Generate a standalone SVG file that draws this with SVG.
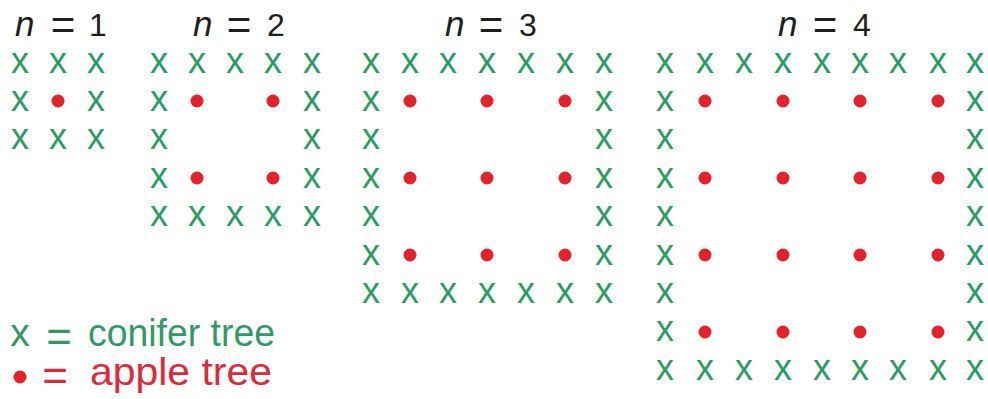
<svg xmlns="http://www.w3.org/2000/svg" width="988" height="399" viewBox="0 0 988 399">
<style>
.t{font-family:"Liberation Sans",Arial,sans-serif;fill:#1e1e1e}
.n{font-style:italic;font-size:35px}
.eq{font-size:42px;text-anchor:middle}
.d{font-size:32px;text-anchor:middle}
.x{font-family:"Liberation Sans",Arial,sans-serif;font-size:36px;fill:#2a9d64;text-anchor:middle}
.a{fill:#e4222b}
.lg{font-family:"Liberation Sans",Arial,sans-serif;font-size:39px;fill:#2f9a68}
.lr{font-family:"Liberation Sans",Arial,sans-serif;font-size:39px;fill:#dc2a3a}
.le{font-size:44px;text-anchor:middle}
</style>
<rect width="988" height="399" fill="#ffffff"/>
<g id="titles">
<text class="t n" x="15" y="36">n</text><text class="t eq" x="63" y="39">=</text><text class="t d" x="98" y="36">1</text>
<text class="t n" x="193" y="36">n</text><text class="t eq" x="239" y="39">=</text><text class="t d" x="276" y="36">2</text>
<text class="t n" x="445" y="36">n</text><text class="t eq" x="491" y="39">=</text><text class="t d" x="528" y="36">3</text>
<text class="t n" x="778" y="36">n</text><text class="t eq" x="825" y="39">=</text><text class="t d" x="862" y="36">4</text>
</g>
<g id="grid-n1">
<text class="x" x="20 58 96" y="72.5">xxx</text>
<text class="x" x="20 96" y="110.5">xx</text>
<text class="x" x="20 58 96" y="149">xxx</text>
<circle class="a" cx="58" cy="101" r="6.5"/>
</g>
<g id="grid-n2">
<text class="x" x="159 197 235 273 312" y="72.5">xxxxx</text>
<text class="x" x="159 312" y="110.5">xx</text>
<text class="x" x="159 312" y="149">xx</text>
<text class="x" x="159 312" y="187.5">xx</text>
<text class="x" x="159 197 235 273 312" y="226">xxxxx</text>
<circle class="a" cx="197" cy="101" r="6.5"/><circle class="a" cx="273" cy="101" r="6.5"/>
<circle class="a" cx="197" cy="178" r="6.5"/><circle class="a" cx="273" cy="178" r="6.5"/>
</g>
<g id="grid-n3">
<text class="x" x="371 410 448 487 526 565 604" y="72.5">xxxxxxx</text>
<text class="x" x="371 604" y="110.5">xx</text>
<text class="x" x="371 604" y="149">xx</text>
<text class="x" x="371 604" y="187.5">xx</text>
<text class="x" x="371 604" y="226">xx</text>
<text class="x" x="371 604" y="264.5">xx</text>
<text class="x" x="371 410 448 487 526 565 604" y="302.5">xxxxxxx</text>
<circle class="a" cx="410" cy="101" r="6.5"/><circle class="a" cx="487" cy="101" r="6.5"/><circle class="a" cx="565" cy="101" r="6.5"/>
<circle class="a" cx="410" cy="178" r="6.5"/><circle class="a" cx="487" cy="178" r="6.5"/><circle class="a" cx="565" cy="178" r="6.5"/>
<circle class="a" cx="410" cy="255" r="6.5"/><circle class="a" cx="487" cy="255" r="6.5"/><circle class="a" cx="565" cy="255" r="6.5"/>
</g>
<g id="grid-n4">
<text class="x" x="665 705 744 783 822 860 898 938 975" y="72.5">xxxxxxxxx</text>
<text class="x" x="665 975" y="110.5">xx</text>
<text class="x" x="665 975" y="149">xx</text>
<text class="x" x="665 975" y="187.5">xx</text>
<text class="x" x="665 975" y="226">xx</text>
<text class="x" x="665 975" y="264.5">xx</text>
<text class="x" x="665 975" y="302.5">xx</text>
<text class="x" x="665 975" y="341">xx</text>
<text class="x" x="665 705 744 783 822 860 898 938 975" y="379.5">xxxxxxxxx</text>
<circle class="a" cx="705" cy="101" r="6.5"/><circle class="a" cx="783" cy="101" r="6.5"/><circle class="a" cx="860" cy="101" r="6.5"/><circle class="a" cx="938" cy="101" r="6.5"/>
<circle class="a" cx="705" cy="178" r="6.5"/><circle class="a" cx="783" cy="178" r="6.5"/><circle class="a" cx="860" cy="178" r="6.5"/><circle class="a" cx="938" cy="178" r="6.5"/>
<circle class="a" cx="705" cy="255" r="6.5"/><circle class="a" cx="783" cy="255" r="6.5"/><circle class="a" cx="860" cy="255" r="6.5"/><circle class="a" cx="938" cy="255" r="6.5"/>
<circle class="a" cx="705" cy="332" r="6.5"/><circle class="a" cx="783" cy="332" r="6.5"/><circle class="a" cx="860" cy="332" r="6.5"/><circle class="a" cx="938" cy="332" r="6.5"/>
</g>
<g id="legend">
<text class="lg" x="20" y="346" text-anchor="middle">x</text>
<text class="lg le" x="59" y="352">=</text>
<text class="lg" x="88" y="346" textLength="187" lengthAdjust="spacingAndGlyphs">conifer tree</text>
<circle class="a" cx="20" cy="377" r="6.5"/>
<text class="lr le" x="55" y="391">=</text>
<text class="lr" x="90" y="385" textLength="182" lengthAdjust="spacingAndGlyphs">apple tree</text>
</g>
</svg>
